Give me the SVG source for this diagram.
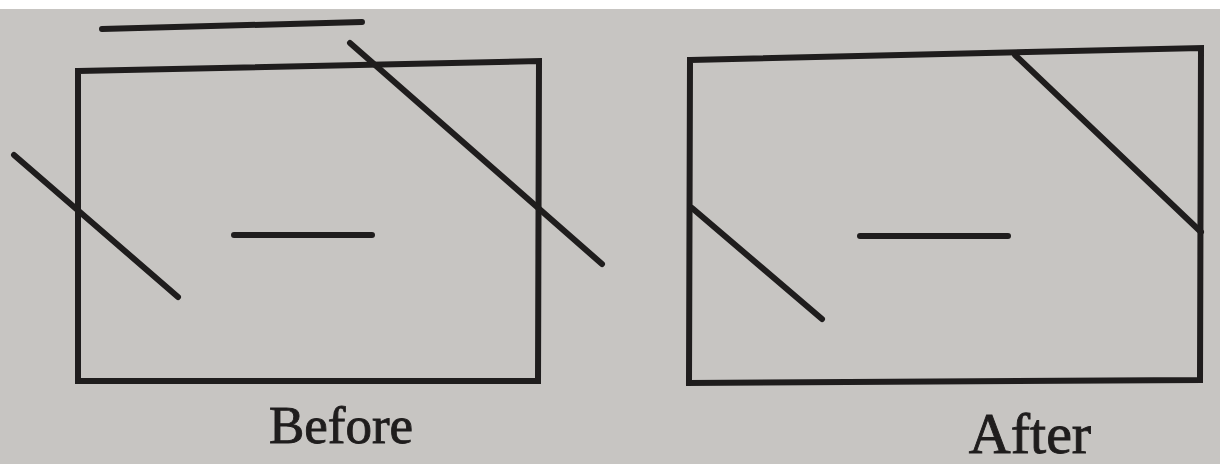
<svg xmlns="http://www.w3.org/2000/svg" width="1220" height="464" viewBox="0 0 1220 464">
  <style>
    .ln { stroke: #1f1d1d; stroke-width: 6; fill: none; stroke-linecap: round; stroke-linejoin: miter; }
    .lbl { font-family: "Liberation Serif", "DejaVu Serif", serif; fill: #1f1d1d; stroke: #1f1d1d; stroke-width: 0.9; text-anchor: middle; }
  </style>
  <rect x="0" y="0" width="1220" height="464" fill="#c7c5c2"/>
  <rect x="0" y="0" width="1220" height="9" fill="#ffffff"/>

  <g id="before">
    <polygon id="before-window" class="ln" points="78,71 539,61 538,381 78,381"/>
    <g id="before-segments">
      <line class="ln" x1="102" y1="29" x2="362" y2="22"/>
      <line class="ln" x1="350" y1="43" x2="602" y2="264"/>
      <line class="ln" x1="14" y1="155" x2="178" y2="297"/>
      <line class="ln" x1="234" y1="235" x2="372" y2="235"/>
    </g>
    <text id="before-label" class="lbl" x="341" y="443" font-size="53">Before</text>
  </g>

  <g id="after">
    <polygon id="after-window" class="ln" points="690,60 1201,48 1200,380 689,383"/>
    <g id="after-segments">
      <line class="ln" x1="1015" y1="55" x2="1201" y2="232"/>
      <line class="ln" x1="692" y1="208" x2="822" y2="319"/>
      <line class="ln" x1="860" y1="236" x2="1008" y2="236"/>
    </g>
    <text id="after-label" class="lbl" x="1030" y="453" font-size="58">After</text>
  </g>
</svg>
